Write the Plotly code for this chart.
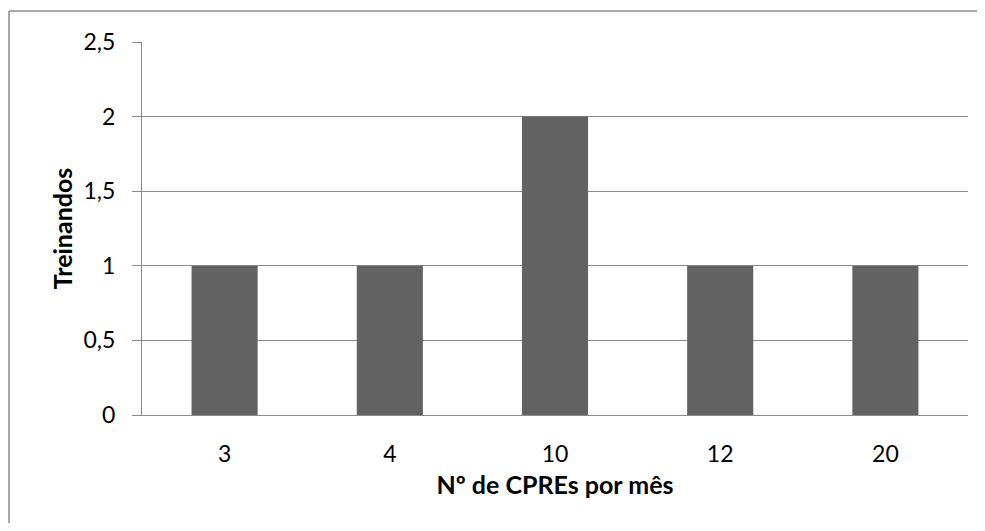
import plotly.graph_objects as go

categories = ["3", "4", "10", "12", "20"]
values = [1, 1, 2, 1, 1]
y_ticks = [0, 0.5, 1, 1.5, 2, 2.5]

# page body has an 8px default margin; figure coordinates = page - 8
W, H = 969, 515
L, T = 134, 34
R = W - 960
B = H - 407
pw, ph = W - L - R, H - T - B

fig = go.Figure(go.Bar(x=categories, y=values, marker=dict(color="#626262", line=dict(width=0)), width=0.4))

font = "Lato, 'Open Sans', sans-serif"
fig.update_layout(
    width=W, height=H,
    margin=dict(l=L, r=R, t=T, b=B, autoexpand=False),
    paper_bgcolor="white", plot_bgcolor="white",
    separators=",.",
    showlegend=False,
    font=dict(family=font, size=23, color="black"),
)
fig.update_xaxes(
    type="category", showgrid=False, showline=True, linecolor="#8c8c8c", linewidth=1,
    ticks="", ticklabelstandoff=18, tickfont=dict(size=23),
    title=dict(text="<b>Nº de CPREs por mês</b>", font=dict(size=25), standoff=10),
)
fig.update_yaxes(
    range=[0, 2.5], tickvals=y_ticks, showgrid=True, gridcolor="#8c8c8c", gridwidth=1,
    showline=True, linecolor="#8c8c8c", linewidth=1, ticks="outside", ticklen=9,
    tickcolor="#8c8c8c", ticklabelstandoff=12, tickfont=dict(size=23), zeroline=False,
    title=dict(text="<b>Treinandos</b>", font=dict(size=25), standoff=3),
)
# outer chart border: only top and left edges are within view
x_left = (1 - L) / pw
y_top = (H - B - 3) / ph
x_far = (W + 20 - L) / pw
y_far = (H - B - H - 20) / ph
border = dict(color="#8c8c8c", width=1.5)
fig.add_shape(type="line", xref="paper", yref="paper", x0=x_left, x1=x_far, y0=y_top, y1=y_top, line=border)
fig.add_shape(type="line", xref="paper", yref="paper", x0=x_left, x1=x_left, y0=y_far, y1=y_top, line=border)
fig.write_html("out.html")
